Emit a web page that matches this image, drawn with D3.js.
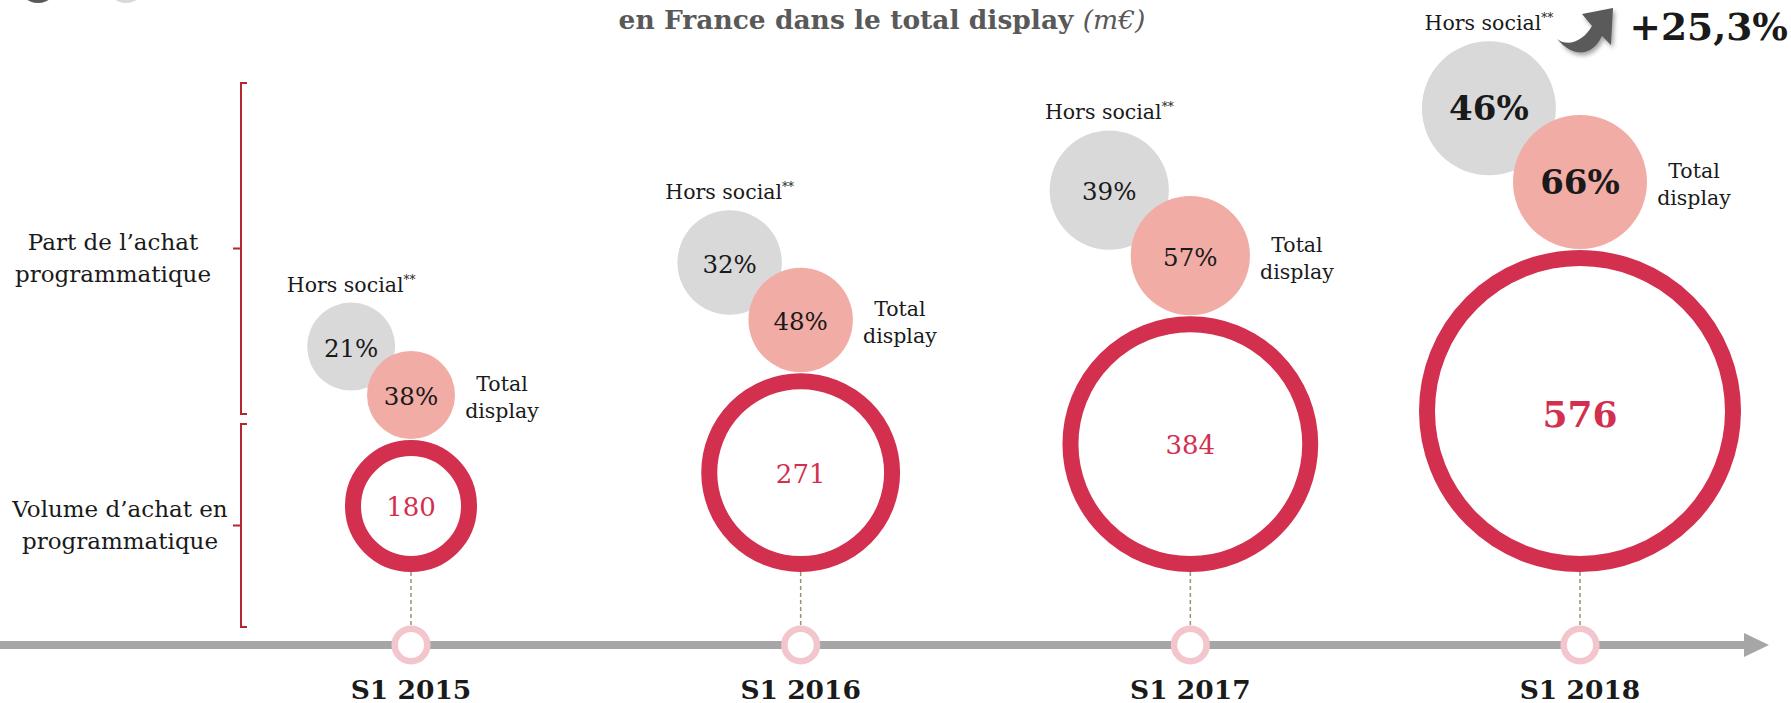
<!DOCTYPE html>
<html>
<head>
<meta charset="utf-8">
<script src="https://cdn.jsdelivr.net/npm/d3@7"></script>
<style>
  body { margin: 0; background: #fff; }
  text { font-family: Georgia, "DejaVu Serif", serif; }
</style>
</head>
<body>
<div id="chart"></div>
<script>
// data
var periods = ["S1 2015", "S1 2016", "S1 2017", "S1 2018"];
var volume = [180, 271, 384, 576];            // volume d'achat programmatique, m€
var shareHorsSocial = [21, 32, 39, 46];       // part programmatique hors social, %
var shareTotalDisplay = [38, 48, 57, 66];     // part programmatique total display, %
var growthLabel = "+25,3%";
var titleBold = "en France dans le total display ";
var titleUnit = "(m€)";
var rowLabels = [["Part de l’achat", "programmatique"], ["Volume d’achat en", "programmatique"]];

var width = 1791, height = 703;
var red = "#d32f4e", pink = "#f2aca6", grey = "#d9d9d9", dark = "#1a1a1a";

var svg = d3.select("#chart").append("svg")
    .attr("width", width)
    .attr("height", height);

var defs = svg.append("defs");
defs.append("filter").attr("id", "shadow")
    .attr("x", "-30%").attr("y", "-30%").attr("width", "160%").attr("height", "160%")
  .append("feDropShadow")
    .attr("dx", 2).attr("dy", 3).attr("stdDeviation", 2)
    .attr("flood-color", "#000").attr("flood-opacity", 0.35);

var data = periods.map(function(p, i) {
  return { period: p, volume: volume[i], hs: shareHorsSocial[i], td: shareTotalDisplay[i],
           last: i === periods.length - 1 };
});

// scales
var x = d3.scalePoint().domain(periods).range([411, 1580]);
var ringR = d3.scaleLog().domain(d3.extent(volume)).range([58, 153]);
var bubbleR = d3.scaleLinear().domain(d3.extent(shareTotalDisplay)).range([44, 67]);

var axisY = 645, ringBase = 572, ringStroke = 16;

data.forEach(function(d) {
  d.x = x(d.period);
  d.r = ringR(d.volume);
  d.cy = ringBase - d.r - ringStroke / 2;
  d.rb = bubbleR(d.td);
  d.py = d.cy - d.r - ringStroke / 2 - 1 - d.rb;
  d.gx = d.x - 1.36 * d.rb;
  d.gy = d.py - 1.1 * d.rb;
});

// bits of the slide cut off at the top
svg.append("circle").attr("cx", 38).attr("cy", -17).attr("r", 20).attr("fill", "#595959");
svg.append("circle").attr("cx", 126).attr("cy", -17).attr("r", 20).attr("fill", grey);

// title (only its second line is visible)
var title = svg.append("text")
    .attr("x", 882).attr("y", 29)
    .attr("text-anchor", "middle")
    .attr("fill", "#595959")
    .style("font-size", "26.5px");
title.append("tspan").attr("font-weight", "bold").text(titleBold);
title.append("tspan").attr("font-style", "italic").text(titleUnit);

// growth arrow + label
svg.append("path")
    .attr("transform", "translate(1557,8)")
    .attr("d", "M0,31 C12,40 27,32 35,18 L25,6 L56,0 L54,37 L45,28 C38,44 20,54 0,31 Z")
    .attr("fill", "#5a5a5a")
    .attr("filter", "url(#shadow)");
svg.append("text")
    .attr("x", 1788).attr("y", 40)
    .attr("text-anchor", "end")
    .attr("font-weight", "bold")
    .attr("fill", dark)
    .style("font-size", "37.5px")
    .text(growthLabel);

// left brackets + row labels
var brackets = [[83, 414], [424, 627]];
var labelY = [250, 517];
brackets.forEach(function(b, i) {
  var mid = (b[0] + b[1]) / 2;
  svg.append("path")
      .attr("d", "M247," + b[0] + " H241 V" + b[1] + " H247 M241," + mid + " H233")
      .attr("fill", "none")
      .attr("stroke", "#b5262e")
      .attr("stroke-width", 2);
  var t = svg.append("text")
      .attr("text-anchor", "middle")
      .attr("fill", dark)
      .style("font-size", "23px");
  rowLabels[i].forEach(function(line, j) {
    t.append("tspan").attr("x", i === 0 ? 113 : 120).attr("y", labelY[i] + j * 32).text(line);
  });
});

// time axis
svg.append("line")
    .attr("x1", 0).attr("x2", 1746)
    .attr("y1", axisY).attr("y2", axisY)
    .attr("stroke", "#a6a6a6")
    .attr("stroke-width", 8);
svg.append("path")
    .attr("d", "M1744," + (axisY - 12) + " L1769," + axisY + " L1744," + (axisY + 12) + " Z")
    .attr("fill", "#a6a6a6");

var g = svg.selectAll(".period")
    .data(data)
  .enter().append("g")
    .attr("class", "period");

// dashed connector
g.append("line")
    .attr("x1", function(d) { return d.x; })
    .attr("x2", function(d) { return d.x; })
    .attr("y1", ringBase)
    .attr("y2", axisY - 19)
    .attr("stroke", "#9d9074")
    .attr("stroke-width", 1.5)
    .attr("stroke-dasharray", "4,3");

// marker on the axis
g.append("circle")
    .attr("cx", function(d) { return d.x; })
    .attr("cy", axisY)
    .attr("r", 16.3)
    .attr("fill", "#fff")
    .attr("stroke", "#f3c5cd")
    .attr("stroke-width", 6.5);

g.append("text")
    .attr("x", function(d) { return d.x; })
    .attr("y", 699)
    .attr("text-anchor", "middle")
    .attr("font-weight", "bold")
    .attr("fill", dark)
    .style("font-size", "26.5px")
    .text(function(d) { return d.period; });

// volume ring
g.append("circle")
    .attr("cx", function(d) { return d.x; })
    .attr("cy", function(d) { return d.cy; })
    .attr("r", function(d) { return d.r; })
    .attr("fill", "#fff")
    .attr("stroke", red)
    .attr("stroke-width", ringStroke);

g.append("text")
    .attr("x", function(d) { return d.x; })
    .attr("y", function(d) { return d.cy + (d.last ? 16 : 10); })
    .attr("text-anchor", "middle")
    .attr("fill", red)
    .attr("font-weight", function(d) { return d.last ? "bold" : "normal"; })
    .style("font-size", function(d) { return d.last ? "36px" : "26px"; })
    .text(function(d) { return d.volume; });

// share bubbles
g.append("circle")
    .attr("cx", function(d) { return d.gx; })
    .attr("cy", function(d) { return d.gy; })
    .attr("r", function(d) { return d.rb; })
    .attr("fill", grey);

g.append("circle")
    .attr("cx", function(d) { return d.x; })
    .attr("cy", function(d) { return d.py; })
    .attr("r", function(d) { return d.rb; })
    .attr("fill", pink);

function pctText(sel, cx, cy, key) {
  sel.append("text")
      .attr("x", cx)
      .attr("y", function(d) { return cy(d) + (d.last ? 12 : 10); })
      .attr("text-anchor", "middle")
      .attr("fill", dark)
      .attr("font-weight", function(d) { return d.last ? "bold" : "normal"; })
      .style("font-size", function(d) { return d.last ? "34px" : "24.5px"; })
      .text(function(d) { return d[key] + "%"; });
}
pctText(g, function(d) { return d.gx; }, function(d) { return d.gy; }, "hs");
pctText(g, function(d) { return d.x; }, function(d) { return d.py; }, "td");

// "Hors social**" above grey bubble
var hs = g.append("text")
    .attr("x", function(d) { return d.gx; })
    .attr("y", function(d) { return d.gy - d.rb - 11; })
    .attr("text-anchor", "middle")
    .attr("fill", dark)
    .style("font-size", "20.5px");
hs.append("tspan").text("Hors social");
hs.append("tspan").attr("dy", -8).style("font-size", "12px").text("**");

// "Total display" right of pink bubble
var td = g.append("text")
    .attr("text-anchor", "middle")
    .attr("fill", dark)
    .style("font-size", "20.5px");
td.append("tspan")
    .attr("x", function(d) { return d.x + d.rb + 47; })
    .attr("y", function(d) { return d.py - 4; })
    .text("Total");
td.append("tspan")
    .attr("x", function(d) { return d.x + d.rb + 47; })
    .attr("y", function(d) { return d.py + 23; })
    .text("display");
</script>
</body>
</html>
